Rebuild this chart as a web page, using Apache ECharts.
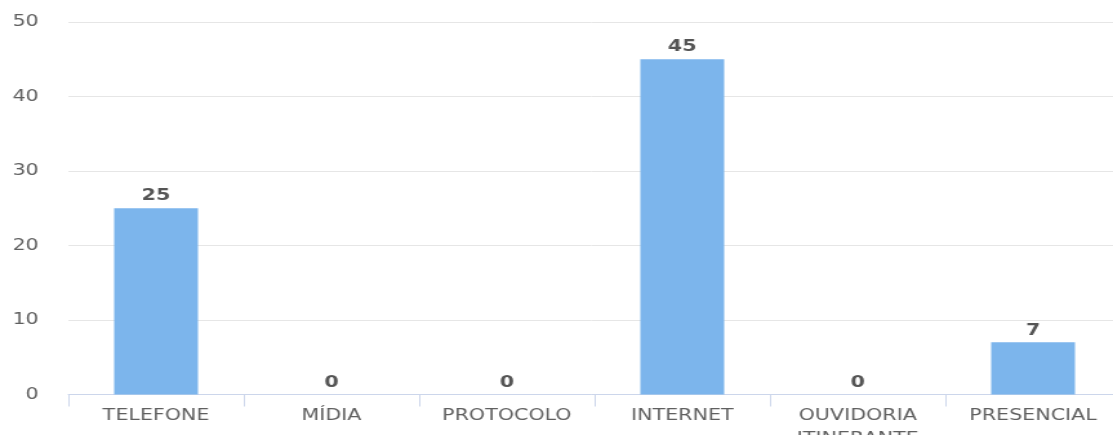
<!DOCTYPE html>
<html><head><meta charset="utf-8">
<script src="https://cdn.jsdelivr.net/npm/echarts@6/dist/echarts.min.js"></script>
<style>
html,body{margin:0;padding:0;background:#fff;overflow:hidden;width:1113px;height:435px}
#c{width:863px;height:435px;transform:scaleX(1.2897);transform-origin:0 0}
</style>
</head><body><div id="c"></div>
<script>
const categories = ['TELEFONE', 'MÍDIA', 'PROTOCOLO', 'INTERNET', 'OUVIDORIA ITINERANTE', 'PRESENCIAL'];
const values = [25, 0, 0, 45, 0, 7];
const yTicks = [0, 10, 20, 30, 40, 50];

const chart = echarts.init(document.getElementById('c'));
chart.setOption({
  animation: false,
  grid: { left: 53, top: 22, width: 816, bottom: 40.5, containLabel: false, outerBoundsMode: 'none' },
  xAxis: {
    type: 'category',
    data: categories,
    axisLine: { lineStyle: { color: '#ccd6eb', width: 1 } },
    axisTick: { show: true, length: 12, lineStyle: { color: '#ccd6eb' } },
    axisLabel: {
      color: '#606060', fontFamily: 'DejaVu Sans', fontSize: 16, margin: 10, interval: 0,
      lineHeight: 23,
      formatter: v => v.replace(' ', '\n')
    }
  },
  yAxis: {
    type: 'value', min: yTicks[0], max: yTicks[yTicks.length - 1], interval: 10,
    axisLine: { show: false }, axisTick: { show: false },
    splitLine: { lineStyle: { color: '#e6e6e6' } },
    axisLabel: { color: '#606060', fontFamily: 'DejaVu Sans', fontSize: 16, margin: 23 }
  },
  series: [{
    type: 'bar',
    data: values,
    barWidth: 65,
    itemStyle: { color: '#7cb5ec' },
    label: {
      show: true, position: 'top', distance: 4,
      color: '#555', fontFamily: 'DejaVu Sans', fontSize: 16, fontWeight: 'bold'
    }
  }]
});
</script></body></html>
